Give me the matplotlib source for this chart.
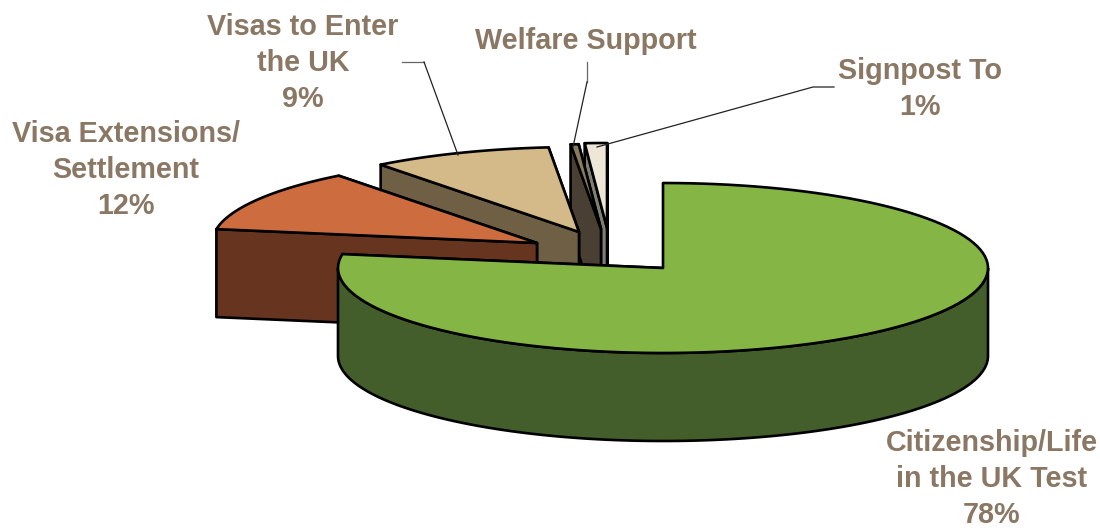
import numpy as np
import matplotlib
matplotlib.use('Agg')
import matplotlib.pyplot as plt
from matplotlib.patches import Polygon

labels = ['Citizenship/Life\nin the UK Test\n78%', 'Visa Extensions/\nSettlement\n12%',
          'Visas to Enter\nthe UK\n9%', 'Welfare Support', 'Signpost To\n1%']
values = [78, 12, 9, 0.4, 1.1]
top_colors = ['#84B545', '#CC6C3F', '#D4BA88', '#8A7B5E', '#EEE7D8']
side_colors = ['#435E2B', '#673420', '#6E5F45', '#4A3F33', '#7F7F73']

# apex of each exploded slice, in image pixels
apex_x = [663, 537, 579, 601, 607]
apex_y = [268, 243, 232, 229, 228]
rx, ry, depth = 325, 85, 88
text_color = '#8A7764'

fig = plt.figure(figsize=(11, 5.28), dpi=100)
ax = fig.add_axes([0, 0, 1, 1])
ax.set_xlim(0, 1100)
ax.set_ylim(528, 0)
ax.axis('off')


def arc(cx, cy, a0, a1, n=120):
    # angles are clockwise from 12 o'clock, in degrees
    t = np.radians(np.linspace(a0, a1, n))
    return np.column_stack([cx + rx * np.sin(t), cy - ry * np.cos(t)])


def draw_slice(cx, cy, a0, a1, top, side):
    down = np.array([0, depth])
    c = np.array([[cx, cy]])
    # radial walls first
    for a in (a1, a0):
        edge = np.vstack([c, arc(cx, cy, a, a, 1)])
        wall = np.vstack([edge, (edge + down)[::-1]])
        ax.add_patch(Polygon(wall, fc=side, ec='black', lw=1.9, joinstyle='round'))
    # outer rim, only the part facing the viewer
    lo, hi = max(a0, 90), min(a1, 270)
    if hi > lo:
        rim = arc(cx, cy, lo, hi)
        ax.add_patch(Polygon(np.vstack([rim, (rim + down)[::-1]]), fc=side, ec='black', lw=1.9))
    face = np.vstack([c, arc(cx, cy, a0, a1)])
    ax.add_patch(Polygon(face, fc=top, ec='black', lw=1.9, joinstyle='round'))


edges = np.cumsum([0] + values) / sum(values) * 360

# back slices first, the big one sits in front of them all
for i in [4, 3, 2, 1, 0]:
    draw_slice(apex_x[i], apex_y[i], edges[i], edges[i + 1], top_colors[i], side_colors[i])

# leader lines
ax.plot([402, 424], [62, 62], color='#666666', lw=0.9)
ax.plot([424, 458], [62, 155], color='#222222', lw=0.9)
ax.plot([587, 587], [62, 82], color='#666666', lw=0.9)
ax.plot([587, 573], [82, 147], color='#222222', lw=0.9)
ax.plot([834, 813, 597], [87, 87, 147], color='#222222', lw=0.9)

font = dict(family='Liberation Sans', fontweight='bold', fontsize=20.7, color=text_color,
            ha='center', va='center', linespacing=1.37)
ax.text(992, 479, labels[0], **font)
ax.text(126, 170, labels[1], **font)
ax.text(303, 63, labels[2], **font)
ax.text(586, 41, labels[3], **font)
ax.text(920, 89, labels[4], **font)

fig.savefig('out.png', dpi=100)
